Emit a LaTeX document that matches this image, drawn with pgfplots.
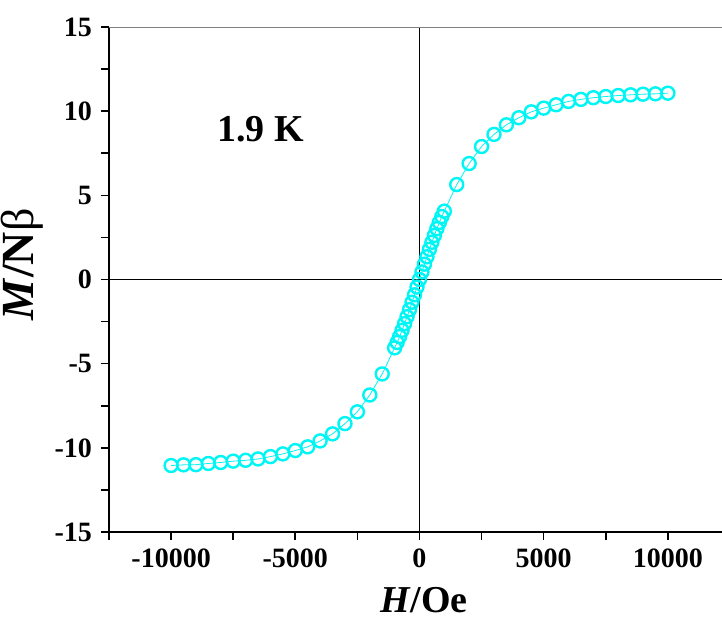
\documentclass[border=0pt]{standalone}
\usepackage{fontspec}
\setmainfont{Liberation Serif}
\usepackage{pgfplots}
\pgfplotsset{compat=1.18}
\definecolor{magcyan}{RGB}{0,245,245}

\begin{document}
\begin{tikzpicture}
\begin{axis}[
  scale only axis,
  width=306.5pt, height=252.5pt,
  xmin=-12500, xmax=12180,
  ymin=-15, ymax=15,
  axis lines*=left,
  axis line style={line width=1pt, black},
  scaled x ticks=false,
  xtick={-10000,-5000,0,5000,10000},
  xticklabels={-10000,-5000,0,5000,10000},
  minor xtick={-12500,-7500,-2500,2500,7500},
  ytick={-15,-10,-5,0,5,10,15},
  yticklabels={-15,-10,-5,0,5,10,15},
  minor ytick={-12.5,-7.5,-2.5,2.5,7.5,12.5},
  tick align=outside,
  major tick length=4pt, minor tick length=4pt,
  tick style={line width=0.8pt, black},
  ticklabel style={font=\fontsize{14}{16}\selectfont\bfseries},
  yticklabel style={xshift=-1pt},
  xticklabel style={yshift=-1pt},
  xlabel={\textbf{\textit{H}/Oe}},
  ylabel={\textbf{\textit{M}/N}β},
  xlabel style={font=\fontsize{19}{22}\selectfont, at={(ticklabel cs:0.514)}, yshift=-3pt},
  ylabel style={font=\fontsize{23}{26}\selectfont, at={(ticklabel cs:0.53)}, yshift=-1pt},
  clip=false,
]
% M(H) isotherm at 1.9 K
\addplot[magcyan, line width=0.4pt, mark=o, mark size=3.25pt,
  mark options={line width=1.2pt, fill=white, solid}]
  coordinates {
  (-10000,-11.05) (-9500,-11.01) (-9000,-11.00) (-8500,-10.93) (-8000,-10.87)
  (-7500,-10.79) (-7000,-10.74) (-6500,-10.66) (-6000,-10.52) (-5500,-10.36)
  (-5000,-10.16) (-4500,-9.94) (-4000,-9.59) (-3500,-9.17) (-3000,-8.56)
  (-2500,-7.86) (-2000,-6.86) (-1500,-5.61)
  (-1000,-4.06) (-900,-3.74) (-800,-3.39) (-700,-3.02) (-600,-2.62)
  (-500,-2.21) (-400,-1.79) (-300,-1.35) (-200,-0.91) (-100,-0.45)
  (0,0.00)
  (100,0.45) (200,0.91) (300,1.35) (400,1.79) (500,2.21)
  (600,2.62) (700,3.02) (800,3.39) (900,3.74) (1000,4.06)
  (1500,5.64) (2000,6.89) (2500,7.90) (3000,8.62) (3500,9.19)
  (4000,9.61) (4500,9.96) (5000,10.18) (5500,10.38) (6000,10.58)
  (6500,10.70) (7000,10.80) (7500,10.87) (8000,10.93) (8500,10.97)
  (9000,11.01) (9500,11.03) (10000,11.07)
  };
% zero lines and top frame
\draw[black, line width=0.7pt] (axis cs:0,-15) -- (axis cs:0,15);
\draw[black, line width=0.7pt] (axis cs:-12500,0) -- (axis cs:12180,0);
\draw[gray, line width=0.5pt] (rel axis cs:0,1) -- (rel axis cs:1,1);
\node[font=\fontsize{19}{22}\selectfont\bfseries] at (axis cs:-6400,8.9) {1.9 K};
\coordinate (SW) at (rel axis cs:0,0);
\coordinate (NE) at (rel axis cs:1,1);
\end{axis}
\pgfresetboundingbox
\path ([shift={(-54.5pt,-45pt)}]SW) rectangle ([shift={(0pt,13.5pt)}]NE);
\end{tikzpicture}
\end{document}
